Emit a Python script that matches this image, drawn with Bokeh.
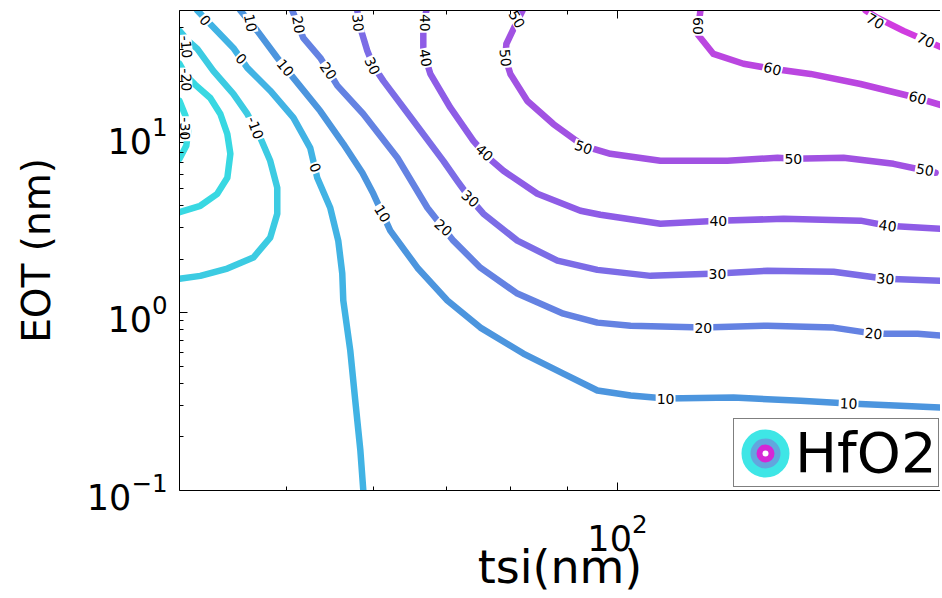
import math
from bokeh.plotting import figure
from bokeh.models import (LogAxis, FixedTicker, ColumnDataSource, Legend,
                          LegendItem, Range1d, CustomJSTickFormatter)
from bokeh.embed import file_html
from bokeh.resources import INLINE
from bokeh.core.properties import value

# ---------------- axis tick values ----------------
x_major_ticks = [100]
x_minor_ticks = [50, 60, 70, 80, 90, 200]
y_major_ticks = [0.1, 1, 10]
y_minor_ticks = [0.2, 0.3, 0.4, 0.5, 0.6, 0.7, 0.8, 0.9,
                 2, 3, 4, 5, 6, 7, 8, 9, 20, 30, 40, 50]

# ---------------- contour levels ----------------
levels = [-30, -20, -10, 0, 10, 20, 30, 40, 50, 60, 70]
level_colors = ["#3ADDE2", "#38D8E2", "#3CCBE2", "#41B3E4", "#4C95DE",
                "#6482E2", "#7C6CE6", "#8E5CE6", "#A152E2", "#BA46E0", "#D03CE0"]

# contour lines (tsi in nm, EOT in nm)
tsi_m30 = [40.0, 40.50, 40.74, 40.57, 40.0]
eot_m30 = [15.5, 12.8, 10.5, 8.67, 7.33]

tsi_m20 = [40.0, 40.57, 41.35, 42.66, 43.57, 44.21, 44.49, 44.21, 43.29, 41.78, 40.08, 40.0]
eot_m20 = [25.1, 21.45, 19.10, 16.1, 13.1, 10.1, 7.82, 5.73, 4.66, 3.99, 3.69, 3.67]

tsi_m10 = [40.0, 40.74, 41.52, 42.93, 44.77, 46.10, 47.37, 48.36, 49.08, 49.08,
           48.36, 46.68, 44.21, 41.78, 40.0]
eot_m10 = [38.4, 33.7, 30.4, 22.9, 17.0, 13.1, 9.62, 7.14, 5.04, 3.60,
           2.64, 2.04, 1.77, 1.61, 1.55]

tsi_0 = [41.52, 42.40, 44.77, 46.10, 48.36, 50.76, 52.58, 53.36, 54.83, 55.76,
         56.23, 56.35, 57.18, 57.78, 58.40, 58.76]
eot_0 = [50.0, 43.7, 30.8, 23.8, 17.7, 12.5, 8.45, 5.73, 3.89, 2.54,
         1.66, 1.17, 0.612, 0.320, 0.168, 0.1]

tsi_10 = [45.43, 47.07, 49.08, 50.76, 53.70, 56.35, 58.64, 60.01, 62.17, 65.80,
          70.06, 75.07, 82.13, 89.31, 95.90, 102.8, 110.6, 127.5, 146.7, 162.2,
          180.8, 196.7]
eot_10 = [50.0, 38.4, 27.1, 20.9, 13.6, 8.90, 6.12, 4.66, 2.89, 1.79,
          1.17, 0.824, 0.589, 0.454, 0.365, 0.342, 0.329, 0.333, 0.320, 0.308,
          0.300, 0.293]

tsi_20 = [50.65, 51.82, 53.70, 55.65, 58.76, 63.10, 67.19, 70.94, 75.07, 81.11,
          89.31, 95.90, 102.8, 119.7, 136.9, 157.2, 170.9, 187.4, 196.7]
eot_20 = [50.0, 35.1, 27.1, 18.9, 13.1, 7.43, 3.89, 2.54, 1.79, 1.28,
          0.987, 0.879, 0.845, 0.824, 0.845, 0.824, 0.762, 0.762, 0.743]

tsi_30 = [58.02, 58.40, 59.25, 60.01, 61.28, 65.24, 69.47, 71.53, 73.51, 75.54,
          81.11, 88.20, 95.90, 107.2, 123.3, 136.9, 157.2, 175.2, 196.7]
eot_30 = [50.0, 39.9, 29.7, 24.4, 20.1, 12.0, 7.14, 5.51, 4.37, 3.60,
          2.54, 1.96, 1.74, 1.61, 1.66, 1.72, 1.70, 1.55, 1.51]

tsi_40 = [67.05, 66.62, 66.62, 67.61, 70.50, 73.98, 76.33, 78.78, 84.58, 92.56,
          96.50, 109.4, 123.5, 141.6, 166.3, 176.0, 196.7]
eot_40 = [50.0, 41.0, 29.7, 22.0, 14.2, 9.25, 7.43, 6.28, 4.66, 3.74,
          3.55, 3.16, 3.29, 3.37, 3.29, 3.08, 2.96]

tsi_50 = [82.0, 80.94, 79.26, 79.10, 79.93, 82.83, 87.46, 93.14, 98.54, 109.4,
          125.9, 139.8, 144.5, 160.5, 178.2, 194.6]
eot_50 = [50.0, 42.6, 32.4, 27.1, 22.0, 15.5, 11.5, 8.67, 7.82, 7.14,
          7.14, 7.43, 7.33, 7.43, 6.87, 6.12]

tsi_60 = [118.97, 118.22, 122.25, 130.17, 138.33, 149.79, 166.30, 187.42, 197.54]
eot_60 = [50.0, 36.9, 28.5, 25.1, 23.5, 22.0, 19.3, 16.1, 14.6]

tsi_70 = [168.06, 172.34, 181.97, 197.54]
eot_70 = [50.0, 45.4, 38.4, 30.8]

# contour labels
lab_tsi = [40.50, 40.57, 40.57, 46.87,
           42.20, 45.52, 53.15,
           46.40, 49.92, 61.15, 110.6, 162.2,
           51.30, 54.61, 69.47, 119.7, 170.9,
           58.10, 59.89, 73.51, 123.3, 175.2,
           66.80, 66.91, 75.70, 123.5, 176.0,
           81.00, 79.10, 93.14, 144.5, 190.3,
           118.47, 138.33, 187.42,
           171.5, 190.6]
lab_eot = [10.81, 20.37, 31.22, 10.95,
           44.0, 26.73, 6.53,
           42.6, 23.79, 3.60, 0.329, 0.308,
           41.6, 22.89, 3.00, 0.824, 0.762,
           42.6, 24.42, 4.37, 1.66, 1.55,
           42.6, 27.08, 7.92, 3.29, 3.08,
           44.6, 27.08, 8.50, 7.33, 6.35,
           40.96, 23.49, 16.14,
           43.6, 34.0]
lab_text = ["-30", "-20", "-10", "-10",
            "0", "0", "0",
            "10", "10", "10", "10", "10",
            "20", "20", "20", "20", "20",
            "30", "30", "30", "30", "30",
            "40", "40", "40", "40", "40",
            "50", "50", "50", "50", "50",
            "60", "60", "60",
            "70", "70"]
lab_angle = [-90, -88, -85, -70,
             -50, -45, -70,
             -78, -50, -58, 0, -3,
             -80, -55, -42, 0, -5,
             -85, -65, -42, 0, -5,
             -90, -80, -42, 0, -8,
             -60, -85, -20, 0, -10,
             -90, -15, -15,
             -30, -25]

legend_label = "HfO2"
icon_colors = ["#3EE6E6", "#62A6DE", "#D626D6"]

# ---------------- figure ----------------
p = figure(width=940, height=596, x_axis_type="log", y_axis_type="log",
           x_range=Range1d(40, 196.6), y_range=Range1d(0.1, 50),
           output_backend="svg", toolbar_location=None,
           min_border_left=179, min_border_right=0, min_border_top=10,
           min_border_bottom=0)
p.outline_line_color = None
p.grid.visible = False
p.background_fill_color = "white"
p.border_fill_color = "white"

FONT = "DejaVu Sans"

xa = p.xaxis[0]
xa.ticker = FixedTicker(ticks=x_major_ticks, minor_ticks=x_minor_ticks)
ya = p.yaxis[0]
ya.ticker = FixedTicker(ticks=y_major_ticks, minor_ticks=y_minor_ticks)

for ax in (xa, ya):
    ax.major_tick_in = 8
    ax.major_tick_out = 0
    ax.minor_tick_in = 4
    ax.minor_tick_out = 0
    ax.axis_line_color = "black"
    ax.major_tick_line_color = "black"
    ax.minor_tick_line_color = "black"
    ax.major_label_text_font = FONT
    ax.major_label_text_font_size = "35px"
    ax.major_label_text_color = "black"
    ax.axis_label_text_font = FONT
    ax.axis_label_text_font_style = "normal"
    ax.axis_label_text_color = "black"

xa.axis_label = "tsi(nm)"
xa.axis_label_text_font_size = "46px"
xa.major_label_standoff = 22
xa.axis_label_standoff = -14

ya.axis_label = "EOT (nm)"
ya.axis_label_text_font_size = "39px"
ya.major_label_standoff = 12
ya.axis_label_standoff = 25

top = LogAxis(ticker=FixedTicker(ticks=x_major_ticks, minor_ticks=x_minor_ticks),
              formatter=CustomJSTickFormatter(code="return ' '"),
              major_tick_in=8, major_tick_out=0, minor_tick_in=4, minor_tick_out=0,
              major_label_text_font_size="2px", major_label_standoff=0,
              axis_line_color="black")
p.add_layout(top, "above")

# ---------------- contour lines ----------------
xs = [tsi_m30, tsi_m20, tsi_m10, tsi_0, tsi_10, tsi_20, tsi_30, tsi_40, tsi_50, tsi_60, tsi_70]
ys = [eot_m30, eot_m20, eot_m10, eot_0, eot_10, eot_20, eot_30, eot_40, eot_50, eot_60, eot_70]
lines = ColumnDataSource(dict(xs=xs, ys=ys, color=level_colors, level=levels))
p.multi_line("xs", "ys", source=lines, line_color="color", line_width=6.5,
             line_join="round", line_cap="round")

labels = ColumnDataSource(dict(x=lab_tsi, y=lab_eot, text=lab_text, angle=lab_angle))
p.text("x", "y", text="text", angle="angle", angle_units="deg", source=labels,
       text_font=value(FONT), text_font_size="14px", text_color="black",
       text_align="center", text_baseline="middle",
       background_fill_color="white", padding=1)

# ---------------- legend (contour icon) ----------------
nan = float("nan")
icon_src = ColumnDataSource(dict(x=[nan], y=[nan]))
r1 = p.scatter("x", "y", source=icon_src, marker="circle", size=24,
               fill_color=None, line_color=icon_colors[0], line_width=24)
r2 = p.scatter("x", "y", source=icon_src, marker="circle", size=24,
               fill_color=icon_colors[2], line_color=None)
r3 = p.scatter("x", "y", source=icon_src, marker="circle", size=24,
               fill_color=None, line_color=icon_colors[1], line_width=6)
r4 = p.scatter("x", "y", source=icon_src, marker="dot", size=24,
               line_color="white")

legend = Legend(items=[LegendItem(label=legend_label, renderers=[r1, r2, r3, r4])],
                location=(554, 3), glyph_width=60, glyph_height=60,
                label_standoff=0, padding=1, margin=0, spacing=0,
                label_text_font=FONT, label_text_font_size="56px",
                label_text_color="black",
                border_line_color="black", border_line_width=1,
                background_fill_color="white", background_fill_alpha=1)
p.add_layout(legend)

open("out.html", "w").write(file_html(p, INLINE))
